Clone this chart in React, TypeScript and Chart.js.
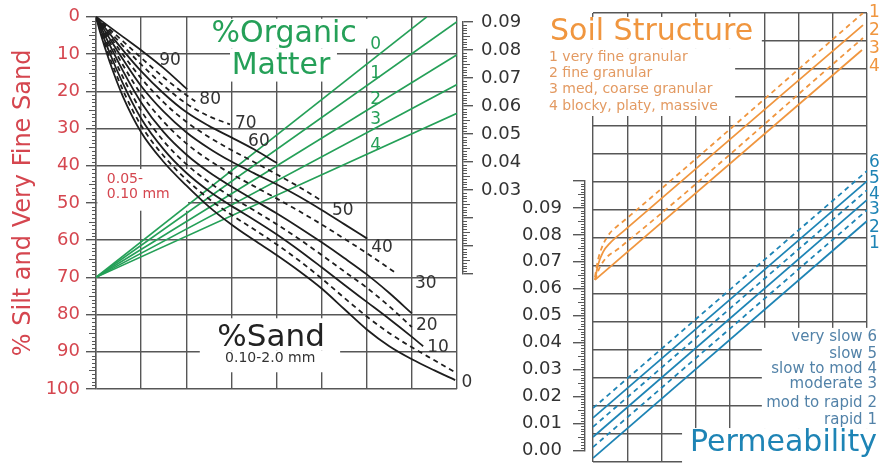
import React, { useEffect, useRef } from 'react';
import { Chart, registerables } from 'chart.js';

Chart.register(...registerables);

// ---------------- Left panel: % sand curves (x: nomograph step 0–8, y: % silt + very fine sand) ----------------
const SAND_90 = [[0, 0], [0.1, 0.9], [0.3, 2.7], [0.6, 5.4], [1, 9], [1.5, 13.8], [2.02, 19.5]];
const SAND_80 = [[0, 0], [0.1, 1.1], [0.3, 3.3], [0.6, 6.6], [1, 11], [1.5, 16.3], [2, 21], [2.2, 22.7]];
const SAND_70 = [[0, 0], [0.1, 1.3], [0.3, 3.9], [0.6, 7.8], [1, 12.8], [1.5, 18.5], [2, 23.3], [2.5, 26.7], [2.97, 28.9]];
const SAND_60 = [[0, 0], [0.1, 1.5], [0.3, 4.5], [0.6, 9], [1, 14.6], [1.5, 20.6], [2, 25.6], [2.5, 29.3], [3, 32.4], [3.5, 35.6], [4.01, 39.3]];
const SAND_50 = [[0, 0], [0.1, 1.7], [0.3, 5.1], [0.6, 10.2], [1, 16.5], [1.5, 23], [2, 28.2], [2.5, 32.3], [3, 35.8], [3.5, 39], [4, 42.3], [4.5, 45.7], [5.01, 49.5]];
const SAND_40 = [[0, 0], [0.1, 1.9], [0.3, 5.8], [0.6, 11.5], [1, 18.6], [1.5, 25.5], [2, 31], [2.5, 35.3], [3, 38.9], [3.5, 42], [4, 45], [4.5, 48.3], [5, 51.9], [5.5, 55.7], [6.01, 59.6]];
const SAND_30 = [[0, 0], [0.1, 2.2], [0.3, 6.6], [0.6, 13], [1, 20.8], [1.5, 28.2], [2, 34], [2.5, 38.5], [3, 42.2], [3.5, 45.5], [4, 48.8], [4.5, 52.2], [5, 55.8], [5.5, 59.6], [6, 63.5], [6.63, 68.7]];
const SAND_20 = [[0, 0], [0.1, 2.5], [0.3, 7.5], [0.6, 14.6], [1, 23], [1.5, 31], [2, 37], [2.5, 41.7], [3, 45.6], [3.5, 49.2], [4, 52.8], [4.5, 56.6], [5, 60.6], [5.5, 64.8], [6, 69.2], [6.5, 74.2], [7, 79.7]];
const SAND_15 = [[0, 0], [0.1, 2.9], [0.3, 8.5], [0.6, 16.3], [1, 25.2], [1.5, 33.4], [2, 39.6], [2.5, 44.4], [3, 48.4], [3.5, 52], [4, 55.7], [4.5, 59.7], [5, 64], [5.5, 68.4], [6, 72.8], [6.5, 77.8], [7, 83.4]];
const SAND_10 = [[0, 0], [0.1, 3.3], [0.3, 9.6], [0.6, 18], [1, 27.3], [1.5, 35.6], [2, 41.9], [2.5, 46.8], [3, 50.8], [3.5, 54.5], [4, 58.4], [4.5, 62.7], [5, 67.3], [5.5, 72], [6, 76.6], [6.5, 81.2], [7, 86], [7.25, 88.5]];
const SAND_5 = [[0, 0], [0.1, 3.9], [0.3, 10.8], [0.6, 19.8], [1, 29.2], [1.5, 37.4], [2, 43.7], [2.5, 48.9], [3, 53.2], [3.5, 57.1], [4, 61.1], [4.5, 65.5], [5, 70.3], [5.5, 75.5], [6, 80.5], [6.5, 85], [7, 88.8], [7.5, 92.3], [7.96, 95.5]];
const SAND_0 = [[0, 0], [0.1, 4.5], [0.3, 12], [0.6, 21.5], [1, 31], [1.5, 39], [2, 45.3], [2.5, 51], [3, 55.8], [3.5, 60], [4, 64], [4.5, 68.3], [5, 73], [5.5, 78.5], [6, 84], [6.5, 88.5], [7, 92], [7.5, 95], [7.96, 97.6]];

const SAND_SOLID = [SAND_90, SAND_60, SAND_40, SAND_20, SAND_10, SAND_0];
const SAND_DASHED = [SAND_80, SAND_70, SAND_50, SAND_30, SAND_15, SAND_5];

const SAND_LABELS = ['90', '80', '70', '60', '50', '40', '30', '20', '10', '0'];
const SAND_LABEL_X = [1.64, 2.53, 3.32, 3.61, 5.47, 6.34, 7.31, 7.33, 7.58, 8.22];
const SAND_LABEL_Y = [11.8, 22.2, 28.6, 33.4, 52.1, 62, 71.7, 82.9, 88.8, 98.4];

// % organic matter lines: common pivot, end points
const OM_LEVELS = ['0', '1', '2', '3', '4'];
const OM_PIVOT = [0, 70];
const OM_END_X = [7.33, 8, 8, 8, 8];
const OM_END_Y = [0, 1.3, 10.2, 18.2, 25.9];
const OM_LABEL_Y = [7.5, 15.2, 22.2, 27.5, 34.5];

// ---------------- Right panel: soil structure (orange) ----------------
const STRUCT_1 = [[0.058, 0.0659], [0.146, 0.072], [0.263, 0.0766], [0.496, 0.0816], [0.788, 0.0848], [1.139, 0.0884], [7.883, 0.16]];
const STRUCT_2 = [[0.058, 0.0649], [0.146, 0.0702], [0.292, 0.0748], [0.496, 0.078], [0.934, 0.0827], [7.883, 0.1557]];
const STRUCT_3 = [[0.058, 0.0649], [0.204, 0.0695], [0.38, 0.0727], [0.73, 0.0759], [7.883, 0.1511]];
const STRUCT_4 = [[0.058, 0.0649], [7.854, 0.1468]];
const STRUCT_CLASSES = ['1 very fine granular', '2 fine granular', '3 med, coarse granular', '4 blocky, platy, massive'];
const STRUCT_NUMS = ['1', '2', '3', '4'];

// ---------------- Right panel: permeability (blue) ----------------
const PERM_CLASSES = ['very slow 6', 'slow 5', 'slow to mod 4', 'moderate 3', 'mod to rapid 2', 'rapid 1'];
const PERM_NUMS = ['6', '5', '4', '3', '2', '1'];
const PERM_START = [0.0192, 0.0157, 0.0125, 0.0089, 0.0053, 0.0014];
const PERM_END = [0.1037, 0.1001, 0.0969, 0.0934, 0.0898, 0.0859];

const GRID = '#575757';
const RED = '#d5464f';
const GREEN = '#25a058';
const ORANGE = '#f0963f';
const ORANGE_TXT = '#e39a62';
const BLUE = '#1e84b5';
const BLUE_TXT = '#5282a8';
const FONT = '"DejaVu Sans", sans-serif';

type P = number[][];
const pts = (a: P) => a.map(([x, y]) => ({ x, y }));

function curve(data: P, color: string, dashed: boolean, width = 1.7) {
  return {
    data: pts(data),
    borderColor: color,
    backgroundColor: color,
    borderWidth: width,
    borderDash: dashed ? [5, 4] : [],
    pointRadius: 0,
    showLine: true,
    fill: false,
    tension: 0.4,
    cubicInterpolationMode: 'monotone' as const,
  };
}

type Note = { t: string; x: number; y: number; size: number; color: string; align?: CanvasTextAlign };

function notesPlugin(id: string, masks: P, notes: Note[]) {
  return {
    id,
    beforeDatasetsDraw(chart: any) {
      const { ctx } = chart;
      const xs = chart.scales.x;
      const ys = chart.scales.y;
      ctx.save();
      ctx.fillStyle = '#ffffff';
      masks.forEach(([x0, x1, y0, y1]) => {
        const a = xs.getPixelForValue(x0);
        const b = xs.getPixelForValue(x1);
        const c = ys.getPixelForValue(y0);
        const d = ys.getPixelForValue(y1);
        ctx.fillRect(Math.min(a, b), Math.min(c, d), Math.abs(b - a), Math.abs(d - c));
      });
      ctx.restore();
    },
    afterDatasetsDraw(chart: any) {
      const { ctx } = chart;
      const xs = chart.scales.x;
      const ys = chart.scales.y;
      ctx.save();
      ctx.textBaseline = 'middle';
      notes.forEach((n) => {
        ctx.font = `${n.size}px ${FONT}`;
        ctx.fillStyle = n.color;
        ctx.textAlign = n.align || 'center';
        ctx.fillText(n.t, xs.getPixelForValue(n.x), ys.getPixelForValue(n.y));
      });
      ctx.restore();
    },
  };
}

function rulerPlugin(id: string, from: number, to: number, step: number, side: 'left' | 'right') {
  return {
    id,
    afterDraw(chart: any) {
      const s = chart.scales.y;
      const ctx = chart.ctx;
      const x0 = side === 'left' ? s.right : s.left;
      const dir = side === 'left' ? -1 : 1;
      const n = Math.round((to - from) / step);
      ctx.save();
      ctx.strokeStyle = GRID;
      ctx.lineWidth = 1;
      for (let i = 0; i <= n; i++) {
        if (i % 10 === 0) continue;
        const y = Math.round(s.getPixelForValue(from + i * step)) + 0.5;
        const len = i % 5 === 0 ? 7 : 4;
        ctx.beginPath();
        ctx.moveTo(x0, y);
        ctx.lineTo(x0 + dir * len, y);
        ctx.stroke();
      }
      ctx.restore();
    },
  };
}

const hiddenX = (min: number, max: number) => ({
  type: 'linear' as const,
  min,
  max,
  afterFit: (s: any) => { s.height = 0; },
  ticks: { display: false, stepSize: 1, maxTicksLimit: 50 },
  grid: { color: GRID, lineWidth: 1.4, drawTicks: false },
  border: { display: false },
});

const baseOpts = {
  responsive: false,
  animation: false as const,
  events: [] as any[],
  plugins: { legend: { display: false }, tooltip: { enabled: false } },
};

export default function App() {
  const lRef = useRef<HTMLCanvasElement>(null);
  const mRef = useRef<HTMLCanvasElement>(null);
  const raRef = useRef<HTMLCanvasElement>(null);
  const rRef = useRef<HTMLCanvasElement>(null);

  useEffect(() => {
    document.body.style.margin = '0';
    Chart.defaults.font.family = FONT;

    // ---------- Left panel ----------
    const leftSets: any[] = [
      ...SAND_SOLID.map((d) => curve(d, '#1e1e1e', false, 1.8)),
      ...SAND_DASHED.map((d) => curve(d, '#1e1e1e', true, 1.8)),
      ...OM_LEVELS.map((_, i) => curve([OM_PIVOT, [OM_END_X[i], OM_END_Y[i]]], GREEN, false, 1.7)),
    ];
    const leftNotes: Note[] = [
      ...SAND_LABELS.map((t, i) => ({ t, x: SAND_LABEL_X[i], y: SAND_LABEL_Y[i], size: 17, color: '#333333' })),
      ...OM_LEVELS.map((t, i) => ({ t, x: 6.2, y: OM_LABEL_Y[i], size: 17, color: GREEN })),
      { t: '%Organic', x: 4.17, y: 4.8, size: 30, color: GREEN },
      { t: 'Matter', x: 4.1, y: 13.4, size: 30, color: GREEN },
      { t: '0.05-', x: 0.24, y: 43.6, size: 14, color: RED, align: 'left' },
      { t: '0.10 mm', x: 0.24, y: 47.6, size: 14, color: RED, align: 'left' },
      { t: '%Sand', x: 3.88, y: 86.4, size: 31, color: '#222222' },
      { t: '0.10-2.0 mm', x: 3.86, y: 91.7, size: 14, color: '#333333' },
    ];
    const leftMasks: P = [
      [2.42, 6.12, 0.53, 8.56],
      [2.97, 5.34, 8.56, 17.4],
      [0.03, 2.04, 40.9, 52.1],
      [2.57, 5.1, 81.0, 89.6],
      [2.3, 5.41, 89.6, 95.5],
    ];
    const chartL = new Chart(lRef.current as HTMLCanvasElement, {
      type: 'scatter',
      data: { datasets: leftSets },
      options: {
        ...baseOpts,
        layout: { padding: { left: 0, right: 23, top: 15, bottom: 83 } },
        scales: {
          x: hiddenX(0, 8),
          y: {
            type: 'linear',
            reverse: true,
            min: 0,
            max: 100,
            afterFit: (s: any) => { s.width = 96; },
            ticks: { stepSize: 10, maxTicksLimit: 50, autoSkip: false, color: RED, font: { size: 18 }, padding: 6 },
            grid: { color: GRID, lineWidth: 1.4, tickLength: 10, tickColor: GRID },
            border: { color: GRID, width: 1.4 },
            title: { display: true, text: '% Silt and Very Fine Sand', color: RED, font: { size: 24 }, padding: { top: 9, bottom: 0 } },
          },
        },
      } as any,
      plugins: [notesPlugin('notesL', leftMasks, leftNotes), rulerPlugin('rulerL', 0, 100, 1, 'left')],
    });

    // ---------- Middle axis (0.03 – 0.09) ----------
    const chartM = new Chart(mRef.current as HTMLCanvasElement, {
      type: 'scatter',
      data: { datasets: [] },
      options: {
        ...baseOpts,
        layout: { padding: { left: 15, right: 0, top: 22, bottom: 26 } },
        scales: {
          x: { display: false, min: 0, max: 1 },
          y: {
            type: 'linear',
            position: 'right',
            min: 0,
            max: 0.09,
            afterFit: (s: any) => { s.width = 77; },
            ticks: {
              stepSize: 0.01,
              maxTicksLimit: 50,
              autoSkip: false,
              color: '#333333',
              font: { size: 18 },
              padding: 8,
              callback: (v: any) => (Number(v) > 0.025 ? Number(v).toFixed(2) : ''),
            },
            grid: { drawOnChartArea: false, tickLength: 10, tickColor: GRID, lineWidth: 1.4 },
            border: { color: GRID, width: 1.4 },
          },
        },
      } as any,
      plugins: [rulerPlugin('rulerM', 0, 0.09, 0.001, 'right')],
    });

    // ---------- Right panel axis (0.00 – 0.09) ----------
    const chartRA = new Chart(raRef.current as HTMLCanvasElement, {
      type: 'scatter',
      data: { datasets: [] },
      options: {
        ...baseOpts,
        layout: { padding: { left: 0, right: 10, top: 31, bottom: 10 } },
        scales: {
          x: { display: false, min: 0, max: 1 },
          y: {
            type: 'linear',
            position: 'left',
            min: 0,
            max: 0.1,
            afterFit: (s: any) => { s.width = 85; },
            ticks: {
              stepSize: 0.01,
              maxTicksLimit: 50,
              autoSkip: false,
              color: '#333333',
              font: { size: 18 },
              padding: 11,
              callback: (v: any) => (Number(v) < 0.095 ? Number(v).toFixed(2) : ''),
            },
            grid: { drawOnChartArea: false, tickLength: 12, tickColor: GRID, lineWidth: 1.4 },
            border: { color: GRID, width: 1.4 },
          },
        },
      } as any,
      plugins: [rulerPlugin('rulerRA', 0, 0.1, 0.001, 'left')],
    });

    // ---------- Right panel ----------
    const structSets = [
      curve(STRUCT_1, ORANGE, true, 1.8),
      curve(STRUCT_2, ORANGE, false, 1.8),
      curve(STRUCT_3, ORANGE, true, 1.8),
      curve(STRUCT_4, ORANGE, false, 1.8),
    ];
    const permSets = PERM_START.map((s, i) => curve([[0, s], [8, PERM_END[i]]], BLUE, i % 2 === 0, 1.8));
    const rightNotes: Note[] = [
      { t: 'Soil Structure', x: -1.255, y: 0.1532, size: 30, color: ORANGE, align: 'left' },
      ...STRUCT_CLASSES.map((t, i) => ({ t, x: -1.285, y: [0.1443, 0.1386, 0.1329, 0.1269][i], size: 14, color: ORANGE_TXT, align: 'left' as CanvasTextAlign })),
      ...STRUCT_NUMS.map((t, i) => ({ t, x: 8.06, y: [0.16, 0.1536, 0.1472, 0.1408][i], size: 17, color: ORANGE, align: 'left' as CanvasTextAlign })),
      ...PERM_NUMS.map((t, i) => ({ t, x: 8.06, y: [0.1066, 0.1009, 0.0952, 0.0898, 0.0837, 0.0777][i], size: 17, color: BLUE, align: 'left' as CanvasTextAlign })),
      ...PERM_CLASSES.map((t, i) => ({ t, x: 8.29, y: [0.0445, 0.0385, 0.0331, 0.0278, 0.021, 0.015][i], size: 15, color: BLUE_TXT, align: 'right' as CanvasTextAlign })),
      { t: 'Permeability', x: 8.29, y: 0.0068, size: 30, color: BLUE, align: 'right' },
    ];
    const rightMasks: P = [
      [-1.4, 4.93, 0.1586, 0.1475],
      [-1.4, 4.15, 0.1475, 0.1233],
      [4.93, 8.6, 0.0478, 0.0121],
      [2.6, 8.6, 0.0121, -0.006],
    ];
    const chartR = new Chart(rRef.current as HTMLCanvasElement, {
      type: 'scatter',
      data: { datasets: [...structSets, ...permSets] as any[] },
      options: {
        ...baseOpts,
        layout: { padding: { left: 53, right: 14, top: 13, bottom: 10 } },
        scales: {
          x: hiddenX(0, 8),
          y: {
            type: 'linear',
            min: 0,
            max: 0.16,
            afterFit: (s: any) => { s.width = 0; },
            ticks: { display: false, stepSize: 0.01, maxTicksLimit: 50 },
            grid: { color: GRID, lineWidth: 1.4, drawTicks: false },
            border: { display: false },
          },
        },
      } as any,
      plugins: [notesPlugin('notesR', rightMasks, rightNotes)],
    });

    return () => {
      chartL.destroy();
      chartM.destroy();
      chartRA.destroy();
      chartR.destroy();
    };
  }, []);

  return (
    <div style={{ position: 'fixed', left: 0, top: 0, width: 881, height: 472, background: '#ffffff', overflow: 'hidden' }}>
      <canvas ref={lRef} width={480} height={472} style={{ position: 'absolute', left: 0, top: 0 }} />
      <canvas ref={mRef} width={100} height={300} style={{ position: 'absolute', left: 440, top: 0 }} />
      <canvas ref={raRef} width={100} height={322} style={{ position: 'absolute', left: 500, top: 150 }} />
      <canvas ref={rRef} width={341} height={472} style={{ position: 'absolute', left: 540, top: 0 }} />
    </div>
  );
}
